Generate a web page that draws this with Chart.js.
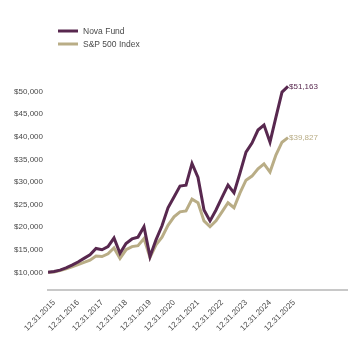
<!DOCTYPE html>
<html>
<head>
<meta charset="utf-8">
<script src="https://cdn.jsdelivr.net/npm/chart.js@4/dist/chart.umd.min.js"></script>
<style>
  body { margin: 0; background: #fff; }
  canvas { display: block; }
</style>
</head>
<body>
<canvas id="growthChart" width="348" height="340"></canvas>
<script>
// quarter-end values of a $10,000 investment, 12.31.2015 .. 12.31.2025
const novaFund = [
  10000, 10200, 10500, 11000, 11600, 12300, 13100, 13900, 15300, 15000,
  15700, 17600, 14200, 16400, 17400, 17800, 20100, 13500, 17200, 20300,
  24300, 26700, 29100, 29300, 34100, 31000, 23800, 21400, 23800, 26600,
  29300, 27600, 32000, 36600, 38600, 41500, 42600, 38800, 44400, 49900,
  51163
];
const spIndex = [
  10000, 10100, 10400, 10800, 11200, 11700, 12200, 12700, 13600, 13500,
  14100, 15400, 13100, 15000, 15700, 15900, 17500, 13300, 16100, 17800,
  20400, 22300, 23400, 23600, 26200, 25400, 21400, 20100, 21400, 23400,
  25400, 24300, 27600, 30400, 31300, 32900, 34000, 32200, 36000, 38800,
  39827
];
const yearLabels = [
  '12.31.2015', '12.31.2016', '12.31.2017', '12.31.2018', '12.31.2019',
  '12.31.2020', '12.31.2021', '12.31.2022', '12.31.2023', '12.31.2024',
  '12.31.2025'
];
const yTickValues = [10000, 15000, 20000, 25000, 30000, 35000, 40000, 45000, 50000];

const NOVA_COLOR = '#58284f';
const SP_COLOR = '#b9ad86';
const TEXT_COLOR = '#4a4a4a';
const FONT = "'Liberation Sans', Arial, sans-serif";

const money = v => '$' + Math.round(v).toLocaleString('en-US');

// legend in the top-left corner, stacked
const stackedLegend = {
  id: 'stackedLegend',
  afterDraw(chart) {
    const ctx = chart.ctx;
    ctx.save();
    ctx.font = '8.5px ' + FONT;
    ctx.textBaseline = 'middle';
    chart.data.datasets.forEach((ds, i) => {
      const y = 31 + i * 13;
      ctx.strokeStyle = ds.borderColor;
      ctx.lineWidth = 3;
      ctx.beginPath();
      ctx.moveTo(58, y);
      ctx.lineTo(78, y);
      ctx.stroke();
      ctx.fillStyle = TEXT_COLOR;
      ctx.fillText(ds.label, 83, y + 0.5);
    });
    ctx.restore();
  }
};

// value tag at the end of each line
const endLabels = {
  id: 'endLabels',
  afterDatasetsDraw(chart) {
    const ctx = chart.ctx;
    const xs = chart.scales.x, ys = chart.scales.y;
    ctx.save();
    ctx.font = '8px ' + FONT;
    ctx.textBaseline = 'middle';
    chart.data.datasets.forEach(ds => {
      const last = ds.data[ds.data.length - 1];
      ctx.fillStyle = ds.borderColor;
      ctx.fillText(money(last.y), xs.getPixelForValue(last.x) + 1, ys.getPixelForValue(last.y));
    });
    ctx.restore();
  }
};

const toPoints = arr => arr.map((v, i) => ({ x: i, y: v }));

new Chart(document.getElementById('growthChart'), {
  type: 'line',
  data: {
    datasets: [
      {
        label: 'Nova Fund',
        data: toPoints(novaFund),
        borderColor: NOVA_COLOR,
        borderWidth: 3,
        pointRadius: 0,
        tension: 0,
        order: 1
      },
      {
        label: 'S&P 500 Index',
        data: toPoints(spIndex),
        borderColor: SP_COLOR,
        borderWidth: 3,
        pointRadius: 0,
        tension: 0,
        order: 2
      }
    ]
  },
  options: {
    responsive: false,
    animation: false,
    devicePixelRatio: 1,
    layout: { padding: { top: 69, left: 0, right: 0, bottom: 0 } },
    plugins: {
      legend: { display: false },
      tooltip: { enabled: false }
    },
    scales: {
      x: {
        type: 'linear',
        min: 0,
        max: 50,
        afterBuildTicks: scale => {
          scale.ticks = yearLabels.map((_, i) => ({ value: i * 4 }));
        },
        afterFit: scale => { scale.height = 50; },
        grid: { display: false },
        border: { color: '#c8c8c8', width: 2 },
        ticks: {
          autoSkip: false,
          minRotation: 45,
          maxRotation: 45,
          padding: 0,
          labelOffset: 6,
          color: TEXT_COLOR,
          font: { family: FONT, size: 8 },
          callback: (value) => yearLabels[value / 4] || ''
        }
      },
      y: {
        min: 6100,
        max: 55000,
        afterBuildTicks: scale => {
          scale.ticks = yTickValues.map(v => ({ value: v }));
        },
        afterFit: scale => { scale.width = 48; },
        grid: { display: false, drawTicks: false },
        border: { display: false },
        ticks: {
          padding: 5,
          color: TEXT_COLOR,
          font: { family: FONT, size: 8 },
          callback: v => money(v)
        }
      }
    }
  },
  plugins: [stackedLegend, endLabels]
});
</script>
</body>
</html>
